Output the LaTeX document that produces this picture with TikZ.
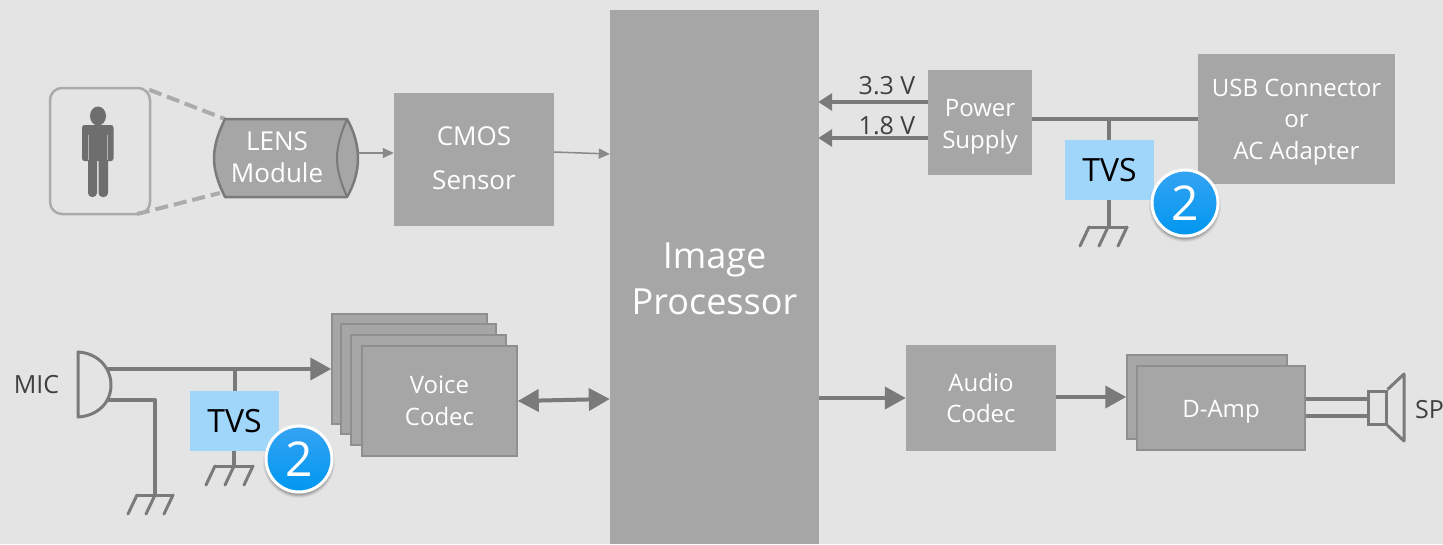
\documentclass[tikz,border=0pt]{standalone}
\usepackage{fontspec}
\setmainfont{Open Sans}
\usetikzlibrary{arrows.meta,calc}
\definecolor{bgc}{HTML}{E4E4E4}
\definecolor{boxc}{HTML}{A6A6A6}
\definecolor{edgec}{HTML}{8F8F8F}
\definecolor{linec}{HTML}{7A7A7A}
\definecolor{darkc}{HTML}{6E6E6E}
\definecolor{tvsc}{HTML}{A1D6FB}
\definecolor{labc}{HTML}{404040}
\definecolor{framec}{HTML}{ABABAB}
\definecolor{badgetop}{HTML}{35A3F2}
\definecolor{badgebot}{HTML}{0097F0}
\tikzset{
  bx/.style={fill=boxc,text=white,align=center,inner sep=0pt,font=\fontsize{26}{32}\selectfont},
  stacked/.style={bx,draw=edgec,line width=1.5pt},
  tvs/.style={fill=tvsc,text=black,inner sep=0pt,font=\fontsize{32}{36}\selectfont},
  badge/.style={circle,draw=white,line width=3pt,top color=badgetop,bottom color=badgebot,text=white,minimum size=66pt,inner sep=0pt,font=\fontsize{48}{52}\selectfont},
  wire/.style={draw=linec,line width=4pt},
  thinwire/.style={draw=linec,line width=4pt,line join=round},
  gnd/.style={draw=linec,line width=3pt,line cap=round},
  bigarrow/.style={wire,-{Triangle[length=21pt,width=22pt]}},
  midarrow/.style={wire,-{Triangle[length=14pt,width=17pt]}},
  smallarrow/.style={draw=framec!80!black,line width=1.5pt,-{Triangle[length=11pt,width=10pt]}},
  lab/.style={text=labc,inner sep=0pt,font=\fontsize{25}{30}\selectfont},
  dashline/.style={draw=framec,line width=4pt,dash pattern=on 13pt off 6pt},
}
% name, x1, y1, x2, y2, style, text
\newcommand{\pbox}[7]{\node[#6,minimum width={(#4)-(#2)},minimum height={(#5)-(#3)}] (#1) at ({((#2)+(#4))/2},{((#3)+(#5))/2}) {#7};}
% text lowered by #1 without moving the box that holds it
\newcommand{\lowered}[2]{\raisebox{-#1}[\height][\depth]{\begin{tabular}{@{}c@{}}#2\end{tabular}}}
\newcommand{\groundsym}[3]{% x of bar left, x of bar right, y
  \draw[gnd] (#1,#3) -- (#2,#3);
  \draw[gnd] (#1,#3) -- ++(-9,19);
  \draw[gnd] ({((#1)+(#2))/2},#3) -- ++(-9,19);
  \draw[gnd] (#2,#3) -- ++(-9,19);
}
\newcommand{\shadowbadge}[3]{% name, x, y
  \foreach \r/\o in {36/.05,35/.07,34/.09,33/.11}{\fill[black,opacity=\o] (#2,{(#3)+3}) circle[radius=\r pt];}
  \node[badge] (#1) at (#2,#3) {2};
}
\begin{document}
\begin{tikzpicture}[x=1pt,y=-1pt]
\useasboundingbox (0,0) rectangle (1443,544);
\fill[bgc] (0,0) rectangle (1443,544);

% main blocks
\pbox{proc}{610}{10}{819}{544}{bx,font=\fontsize{36}{46}\selectfont}{\lowered{5pt}{Image\\Processor}}
\pbox{cmos}{394}{93}{554}{226}{bx,font=\fontsize{26}{44.5}\selectfont}{\raisebox{1pt}[\height][\depth]{\begin{tabular}{@{}c@{}}CMOS\\Sensor\end{tabular}}}
\pbox{power}{928}{70}{1032}{175}{bx,font=\fontsize{24}{32}\selectfont}{\lowered{4pt}{Power\\Supply}}
\pbox{usb}{1198}{54}{1395}{184}{bx,font=\fontsize{24}{31.5}\selectfont}{\lowered{2.5pt}{USB Connector\\or\\AC Adapter}}
\pbox{audio}{906}{345}{1056}{451}{bx,font=\fontsize{24}{31.5}\selectfont}{Audio\\Codec}

% voice codec stack
\pbox{vc1}{332}{314}{487}{424}{stacked}{}
\pbox{vc2}{341}{324}{496}{434}{stacked}{}
\pbox{vc3}{351}{335}{506}{445}{stacked}{}
\pbox{vc4}{362}{346}{517}{456}{stacked,font=\fontsize{24}{32}\selectfont}{Voice\\Codec}

% D-Amp stack
\pbox{da1}{1127}{355}{1287}{439}{stacked}{}
\pbox{da2}{1137}{366}{1305}{450}{stacked,font=\fontsize{24}{30}\selectfont}{\lowered{3pt}{D-Amp}}

% scene: person
\node[draw=framec,line width=2.5pt,rounded corners=12pt,minimum width=100pt,minimum height=126pt,inner sep=0pt] (frame) at (100,151) {};
\fill[darkc] (98,116) ellipse[x radius=8,y radius=9.5];
\fill[darkc,rounded corners=2.5pt] (82,125) rectangle (113.5,161);
\fill[darkc,rounded corners=4pt] (88,150) rectangle (97,197);
\fill[darkc,rounded corners=4pt] (98.5,150) rectangle (108,197);
\draw[bgc!60!darkc,line width=.6pt] (88,135) -- (88,160) (107.5,135) -- (107.5,160);

% lens
\coordinate (lensTL) at (225,119);
\coordinate (lensTR) at (347,119);
\coordinate (lensBL) at (225,197);
\coordinate (lensBR) at (347,197);
\draw[dashline] (frame.north east) ++(-2,3) -- (lensTL);
\draw[dashline] (137,214) -- (220,193);
\draw[draw=linec,fill=boxc,line width=2.5pt,line join=round] (lensTL) -- (lensTR)
   .. controls (354,131) and (358,145) .. (358,158)
   .. controls (358,172) and (354,185) .. (lensBR) -- (lensBL)
   .. controls (219,185) and (214,172) .. (214,158)
   .. controls (214,145) and (219,131) .. cycle;
\draw[draw=linec,line width=2pt] (lensTR) .. controls (342,131) and (337,145) .. (337,158)
   .. controls (337,172) and (342,185) .. (lensBR);
\node[text=white,align=center,inner sep=0pt,font=\fontsize{26}{32}\selectfont] (lens) at (277,157.5) {LENS\\Module};

% small arrows
\draw[smallarrow] (358,153) -- (cmos.west|-0,153);
\draw[smallarrow] (cmos.east|-0,152) -- (proc.west|-0,154);

% power
\draw[midarrow] (power.west|-0,102) -- ([xshift=-1pt]proc.east|-0,102);
\draw[midarrow] (power.west|-0,138) -- ([xshift=-1pt]proc.east|-0,138);
\node[lab] (v33) at (887,86) {3.3 V};
\node[lab] (v18) at (887,126) {1.8 V};
\draw[wire] (power.east|-0,119) -- (usb.west|-0,119);

% upper TVS
\pbox{tvsa}{1065}{140}{1154}{200}{tvs}{TVS}
\coordinate (bara) at (1109,227);
\coordinate (taba) at (1109,119);
\draw[wire] (taba) -- (tvsa.north-|taba);
\draw[wire] (tvsa.south-|bara) -- (bara);
\groundsym{1089}{1127}{227}
\shadowbadge{ba}{1185}{203}

% MIC
\draw[draw=linec,line width=3pt,line join=round] (78,352) .. controls (97,353) and (111,367) .. (111,385)
   .. controls (111,403) and (97,416) .. (78,417) -- cycle;
\coordinate (micTop) at (108,369);
\coordinate (micBot) at (108,400);
\coordinate (tapb) at (235,369);
\coordinate (barb) at (234,466);
\coordinate (micG) at (155,495);
\node[lab] (mic) at (36.5,385) {MIC};
\draw[bigarrow] (micTop) -- (vc1.west|-micTop);
\draw[thinwire] (micBot) -| (micG);
\groundsym{137}{173}{495}

% lower TVS
\pbox{tvsb}{190}{391}{279}{451}{tvs}{TVS}
\draw[wire] (tapb) -- (tvsb.north-|tapb);
\draw[wire] (tvsb.south-|barb) -- (barb);
\groundsym{215}{253}{466}
\shadowbadge{bb}{299}{459}

% big connectors
\draw[wire,{Triangle[length=21pt,width=22pt]}-{Triangle[length=21pt,width=22pt]}] (vc4.east|-0,401) -- (proc.west|-0,399);
\draw[bigarrow] (proc.east|-0,398) -- (audio.west|-0,398);
\draw[bigarrow] (audio.east|-0,397) -- (da1.west|-0,397);

% speaker
\node[draw=linec,line width=3pt,minimum width=18pt,minimum height=33pt,inner sep=0pt] (spk) at (1377,407.5) {};
\draw[draw=linec,line width=3pt,line join=round] (spk.north east) -- (1404,374) -- (1404,441) -- (spk.south east);
\draw[draw=linec,line width=3.5pt] (da2.east|-0,399) -- (spk.west|-0,399);
\draw[draw=linec,line width=3.5pt] (da2.east|-0,416) -- (spk.west|-0,416);
\node[lab,anchor=west] (sp) at (1415,410) {SP};
\end{tikzpicture}
\end{document}
